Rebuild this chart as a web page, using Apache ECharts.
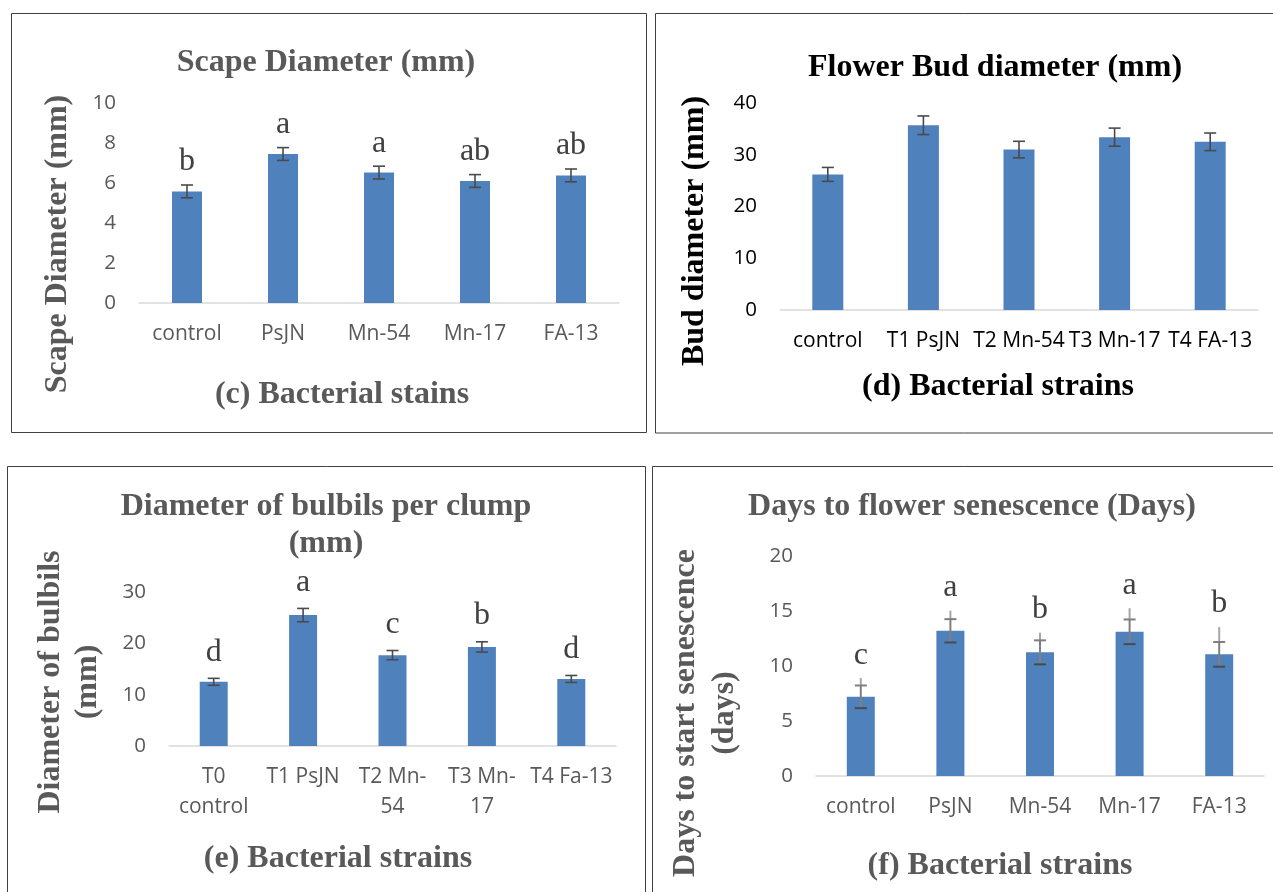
<!DOCTYPE html>
<html>
<head>
<meta charset="utf-8">
<script src="https://cdn.jsdelivr.net/npm/echarts@6/dist/echarts.min.js"></script>
<style>
html,body{margin:0;padding:0;background:#fff;}
#chart{width:1273px;height:892px;}
</style>
</head>
<body>
<div id="chart"></div>
<script>
// Panel (c) Scape Diameter
const catC = ['control', 'PsJN', 'Mn-54', 'Mn-17', 'FA-13'];
const valC = [5.58, 7.45, 6.52, 6.1, 6.38];
const errC = [0.32, 0.32, 0.32, 0.32, 0.32];
const letC = ['b', 'a', 'a', 'ab', 'ab'];
const ticksC = {max: 10, interval: 2};

// Panel (d) Flower Bud diameter
const catD = ['control', 'T1 PsJN', 'T2 Mn-54', 'T3 Mn-17', 'T4 FA-13'];
const valD = [26.2, 35.7, 31.0, 33.4, 32.5];
const errD = [1.35, 1.8, 1.6, 1.75, 1.7];
const letD = ['', '', '', '', ''];
const ticksD = {max: 40, interval: 10};

// Panel (e) Diameter of bulbils per clump
const catE = ['T0\ncontrol', 'T1 PsJN', 'T2 Mn-\n54', 'T3 Mn-\n17', 'T4 Fa-13'];
const valE = [12.5, 25.5, 17.7, 19.3, 13.06];
const errE = [0.68, 1.3, 0.9, 1.0, 0.68];
const letE = ['d', 'a', 'c', 'b', 'd'];
const ticksE = {max: 30, interval: 10};

// Panel (f) Days to flower senescence
const catF = ['control', 'PsJN', 'Mn-54', 'Mn-17', 'FA-13'];
const valF = [7.2, 13.2, 11.24, 13.11, 11.06];
const errF = [1.03, 1.06, 1.09, 1.12, 1.12];
const extF = [8.9, 15.03, 13.02, 15.25, 13.54];   // upper end of the light grey whisker
const letF = ['c', 'a', 'b', 'a', 'b'];
const ticksF = {max: 20, interval: 5};

const GRAY = '#595959';
const BLACK = '#000000';
const SERIF = '"Liberation Serif", "Times New Roman", serif';
const SANS = '"Open Sans", "Liberation Sans", sans-serif';
const BAR = '#4f81bd';

const panels = [
  {cat: catC, val: valC, err: errC, let: letC, ext: null, ticks: ticksC,
   grid: {left: 139, top: 103, width: 480, height: 200}, barWidth: 30, color: GRAY, labMargin: 19, lineH: 24, letGap: 7},
  {cat: catD, val: valD, err: errD, let: letD, ext: null, ticks: ticksD,
   grid: {left: 780, top: 103, width: 478, height: 207}, barWidth: 31, color: BLACK, labMargin: 19, lineH: 24, letGap: 7},
  {cat: catE, val: valE, err: errE, let: letE, ext: null, ticks: ticksE,
   grid: {left: 169, top: 592, width: 447, height: 154}, barWidth: 28, color: GRAY, labMargin: 16, lineH: 30, letGap: 10},
  {cat: catF, val: valF, err: errF, let: letF, ext: extF, ticks: ticksF,
   grid: {left: 816, top: 556, width: 448, height: 220}, barWidth: 28, color: GRAY, labMargin: 19, lineH: 24, letGap: 7}
];

const grids = [], xAxes = [], yAxes = [], series = [];
panels.forEach((p, k) => {
  grids.push(Object.assign({}, p.grid));
  xAxes.push({
    type: 'category', gridIndex: k, data: p.cat,
    axisLine: {show: true, lineStyle: {color: '#d9d9d9', width: 1.5}},
    axisTick: {show: false},
    axisLabel: {interval: 0, color: p.color, fontSize: 21, fontFamily: SANS, margin: p.labMargin, lineHeight: p.lineH}
  });
  yAxes.push({
    type: 'value', gridIndex: k, min: 0, max: p.ticks.max, interval: p.ticks.interval,
    axisLine: {show: false}, axisTick: {show: false}, splitLine: {show: false},
    axisLabel: {color: p.color, fontSize: 20.5, fontFamily: SANS, margin: 23}
  });
  series.push({
    type: 'bar', xAxisIndex: k, yAxisIndex: k, data: p.val, barWidth: p.barWidth,
    itemStyle: {color: BAR}, silent: true
  });
  const errData = p.val.map((v, i) => [i, v, p.err[i], p.ext ? p.ext[i] : v + p.err[i]]);
  series.push({
    type: 'custom', xAxisIndex: k, yAxisIndex: k, data: errData, z: 5, silent: true,
    encode: {x: 0, y: 1},
    renderItem: function (params, api) {
      const i = api.value(0), v = api.value(1), e = api.value(2), ext = api.value(3);
      const top = api.coord([i, v + e]);
      const bot = api.coord([i, v - e]);
      const hi = api.coord([i, ext]);
      const cx = top[0];
      const dark = '#4a4a4a';
      const ch = [];
      if (p.ext) {
        ch.push({type: 'line', shape: {x1: cx, y1: hi[1], x2: cx, y2: top[1]}, style: {stroke: '#a6a6a6', lineWidth: 2}});
        ch.push({type: 'line', shape: {x1: cx, y1: top[1], x2: cx, y2: bot[1]}, style: {stroke: '#7f7f7f', lineWidth: 2}});
        ch.push({type: 'line', shape: {x1: cx - 6, y1: top[1], x2: cx + 6, y2: top[1]}, style: {stroke: '#7f7f7f', lineWidth: 2}});
        ch.push({type: 'line', shape: {x1: cx - 6, y1: bot[1], x2: cx + 6, y2: bot[1]}, style: {stroke: dark, lineWidth: 2}});
      } else {
        ch.push({type: 'line', shape: {x1: cx, y1: top[1], x2: cx, y2: bot[1]}, style: {stroke: dark, lineWidth: 1.6}});
        ch.push({type: 'line', shape: {x1: cx - 6, y1: top[1], x2: cx + 6, y2: top[1]}, style: {stroke: dark, lineWidth: 1.6}});
        ch.push({type: 'line', shape: {x1: cx - 6, y1: bot[1], x2: cx + 6, y2: bot[1]}, style: {stroke: dark, lineWidth: 1.6}});
      }
      const letter = p.let[params.dataIndex];
      if (letter) {
        ch.push({type: 'text', style: {text: letter, x: cx, y: hi[1] - p.letGap, align: 'center', verticalAlign: 'bottom',
          fontSize: 32, fontFamily: SERIF, fill: '#404040'}});
      }
      return {type: 'group', children: ch};
    }
  });
});

function txt(x, y, text, color, opts) {
  return Object.assign({
    type: 'text', x: x, y: y, silent: true,
    style: {text: text, fill: color, fontSize: 32, fontWeight: 'bold', fontFamily: SERIF,
      align: 'center', verticalAlign: 'middle', lineHeight: (opts && opts.lh) || 37}
  }, opts && opts.rot ? {rotation: Math.PI / 2} : {});
}
function box(x, y, w, h) {
  return {type: 'rect', silent: true, shape: {x: x, y: y, width: w, height: h},
    style: {fill: 'none', stroke: '#404040', lineWidth: 1}};
}

const graphic = [
  box(11.5, 13.5, 635, 419), box(655.5, 13.5, 700, 419.5),
  box(7.5, 466.5, 638, 500), box(652.5, 466.5, 700, 500),
  txt(326, 63, 'Scape Diameter (mm)', GRAY),
  txt(342, 395, '(c) Bacterial stains', GRAY),
  txt(58, 244, 'Scape Diameter (mm)', GRAY, {rot: true}),
  txt(995, 68, 'Flower Bud diameter (mm)', BLACK),
  txt(998, 387, '(d) Bacterial strains', BLACK),
  txt(695, 231, 'Bud diameter (mm)', BLACK, {rot: true}),
  txt(326, 525.5, 'Diameter of bulbils per clump\n(mm)', GRAY),
  txt(338, 859, '(e) Bacterial strains', GRAY),
  txt(69, 682, 'Diameter of bulbils\n(mm)', GRAY, {rot: true, lh: 37}),
  txt(972, 507, 'Days to flower senescence (Days)', GRAY),
  txt(1000, 866, '(f) Bacterial strains', GRAY),
  txt(705, 713, 'Days to start senescence\n(days)', GRAY, {rot: true, lh: 39})
];

const chart = echarts.init(document.getElementById('chart'), null, {renderer: 'canvas'});
chart.setOption({
  animation: false,
  backgroundColor: '#ffffff',
  grid: grids, xAxis: xAxes, yAxis: yAxes, series: series, graphic: graphic
});
</script>
</body>
</html>
